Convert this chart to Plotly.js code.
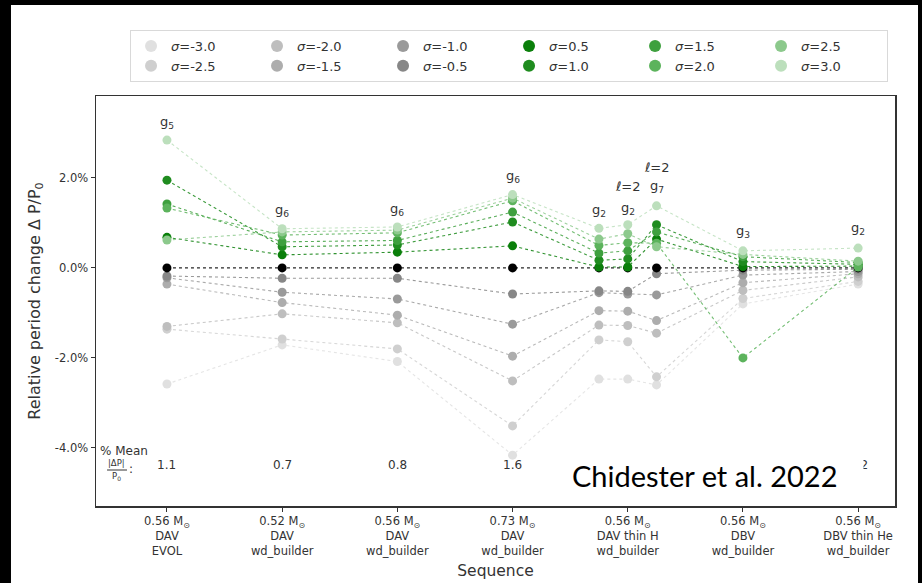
<!DOCTYPE html>
<html>
<head>
<meta charset="utf-8">
<script src="https://cdn.plot.ly/plotly-3.0.1.min.js"></script>
<style>
  html, body { margin: 0; padding: 0; background: #000; }
  #chart { width: 922px; height: 583px; }
</style>
</head>
<body>
<div id="chart"></div>
<script>
// Sequence positions (the thin-H model carries three modes side by side)
const xPos = [0, 1, 2, 3, 3.75, 4, 4.25, 5, 6];
const seqTicks = [0, 1, 2, 3, 4, 5, 6];
const seqLabels = [
  '0.56 M<sub>⊙</sub><br>DAV<br>EVOL',
  '0.52 M<sub>⊙</sub><br>DAV<br>wd_builder',
  '0.56 M<sub>⊙</sub><br>DAV<br>wd_builder',
  '0.73 M<sub>⊙</sub><br>DAV<br>wd_builder',
  '0.56 M<sub>⊙</sub><br>DAV thin H<br>wd_builder',
  '0.56 M<sub>⊙</sub><br>DBV<br>wd_builder',
  '0.56 M<sub>⊙</sub><br>DBV thin He<br>wd_builder'
];
const yTickVals = [-4, -2, 0, 2];
const yTickText = ['-4.0%', '-2.0%', '0.0%', '2.0%'];

// Relative period change (%) for each sigma perturbation
const sigmas = ['-3.0', '-2.5', '-2.0', '-1.5', '-1.0', '-0.5', '0.5', '1.0', '1.5', '2.0', '2.5', '3.0'];
const dP_m30 = [-2.58, -1.71, -2.08, -4.16, -2.47, -2.47, -2.60, -0.80, -0.36];
const dP_m25 = [-1.36, -1.58, -1.80, -3.51, -1.60, -1.64, -2.42, -0.68, -0.30];
const dP_m20 = [-1.30, -1.02, -1.22, -2.51, -1.27, -1.28, -1.45, -0.50, -0.20];
const dP_m15 = [-0.36, -0.77, -1.05, -1.96, -0.95, -0.96, -1.17, -0.33, -0.13];
const dP_m10 = [-0.22, -0.54, -0.69, -1.25, -0.55, -0.58, -0.60, -0.16, -0.08];
const dP_m05 = [-0.18, -0.23, -0.23, -0.58, -0.51, -0.52, -0.13, -0.05, -0.03];
const dP_00  = [0, 0, 0, 0, 0, 0, 0, 0, 0];
const dP_p05 = [0.68, 0.29, 0.35, 0.49, 0.02, 0.02, 0.64, 0.03, 0.04];
const dP_p10 = [1.95, 0.47, 0.51, 1.02, 0.17, 0.20, 0.96, 0.14, 0.08];
const dP_p15 = [1.42, 0.58, 0.61, 1.24, 0.33, 0.38, 0.80, 0.25, 0.12];
const dP_p20 = [1.33, 0.73, 0.78, 1.49, 0.50, 0.56, 0.55, -2.00, 0.02];
const dP_p25 = [0.62, 0.80, 0.84, 1.55, 0.64, 0.76, 0.47, 0.30, 0.15];
const dP_p30 = [2.84, 0.87, 0.91, 1.63, 0.88, 0.96, 1.38, 0.38, 0.44];
const seriesVals = [dP_m30, dP_m25, dP_m20, dP_m15, dP_m10, dP_m05, dP_p05, dP_p10, dP_p15, dP_p20, dP_p25, dP_p30];

const seriesColors = ['#e0e0e0', '#cfcfcf', '#bebebe', '#adadad', '#9a9a9a', '#878787',
                      '#0a7f0a', '#1f8c1f', '#3ea03e', '#5cb35c', '#8cc98c', '#bcdfbc'];

// Column-major legend: first row holds every other sigma
const legendOrder = ['-3.0', '-2.0', '-1.0', '0.5', '1.5', '2.5', '-2.5', '-1.5', '-0.5', '1.0', '2.0', '3.0'];

// Mean |dP|/P0 per sequence (%)
const meanVals = ['1.1', '0.7', '0.8', '1.6', null, null, '0.2'];

// Mode labels above each sequence
const modeLabels = ['g<sub>5</sub>', 'g<sub>6</sub>', 'g<sub>6</sub>', 'g<sub>6</sub>', 'g<sub>2</sub>', 'ℓ=2', 'g<sub>2</sub>', 'ℓ=2', 'g<sub>7</sub>', 'g<sub>3</sub>', 'g<sub>2</sub>'];
const modeX = [0, 1, 2, 3, 3.75, 4, 4, 4.25, 4.25, 5, 6];
const modeY = [3.24, 1.27, 1.29, 2.04, 1.27, 1.82, 1.33, 2.24, 1.80, 0.82, 0.87];

const FONT = 'DejaVu Sans, sans-serif';
const traces = [];

// dotted connectors, greys first, then the zero baseline, then greens
function lineTrace(y, color) {
  return { x: xPos, y: y, mode: 'lines', type: 'scatter', showlegend: false, hoverinfo: 'skip',
           line: { color: color, width: 1.1, dash: 'dot' }, opacity: 0.85 };
}
function markerTrace(y, color, sig, show) {
  return { x: xPos, y: y, mode: 'markers', type: 'scatter', name: '<i>σ</i>=' + sig, showlegend: show,
           legendrank: show ? legendOrder.indexOf(sig) + 1 : 1000,
           marker: { color: color, size: 9, line: { width: 0 } } };
}
for (let i = 0; i < 6; i++) traces.push(lineTrace(seriesVals[i], seriesColors[i]));
traces.push(lineTrace(dP_00, '#000000'));
for (let i = 6; i < 12; i++) traces.push(lineTrace(seriesVals[i], seriesColors[i]));
for (let i = 0; i < 6; i++) traces.push(markerTrace(seriesVals[i], seriesColors[i], sigmas[i], true));
traces.push(markerTrace(dP_00, '#000000', '0.0', false));
for (let i = 6; i < 12; i++) traces.push(markerTrace(seriesVals[i], seriesColors[i], sigmas[i], true));

const annotations = [];
modeLabels.forEach((txt, i) => annotations.push({
  x: modeX[i], y: modeY[i], xref: 'x', yref: 'y', text: txt, showarrow: false,
  font: { family: FONT, size: 13, color: '#333' }
}));
meanVals.forEach((v, i) => { if (v !== null) annotations.push({
  x: seqTicks[i], y: -4.38, xref: 'x', yref: 'y', text: v, showarrow: false,
  font: { family: FONT, size: 12, color: '#333' }
}); });
annotations.push({ x: -0.6, y: -4.07, xref: 'x', yref: 'y', xanchor: 'left', text: '% Mean', showarrow: false,
  font: { family: FONT, size: 12, color: '#333' } });
annotations.push({ x: -0.434, y: -4.34, xref: 'x', yref: 'y', text: '|ΔP|', showarrow: false,
  font: { family: FONT, size: 8.5, color: '#333' } });
annotations.push({ x: -0.434, y: -4.63, xref: 'x', yref: 'y', text: 'P<sub>0</sub>', showarrow: false,
  font: { family: FONT, size: 8.5, color: '#333' } });
annotations.push({ x: -0.315, y: -4.47, xref: 'x', yref: 'y', text: ':', showarrow: false,
  font: { family: FONT, size: 12, color: '#333' } });
annotations.push({ x: 0.593, y: 0.076, xref: 'paper', yref: 'paper', xanchor: 'left', yanchor: 'middle',
  text: 'Chidester et al. 2022', showarrow: false, width: 290, align: 'left', height: 44,
  bgcolor: '#ffffff', font: { family: 'Lato, sans-serif', size: 29, color: '#000' } });

const layout = {
  width: 922, height: 583,
  paper_bgcolor: '#000000', plot_bgcolor: '#ffffff',
  margin: { l: 96, r: 27, t: 96, b: 77 },
  font: { family: FONT, color: '#333' },
  showlegend: true,
  legend: {
    orientation: 'h', x: 0.0426, y: 1.161, xanchor: 'left', yanchor: 'top',
    bgcolor: '#ffffff', bordercolor: '#d9d9d9', borderwidth: 1,
    font: { family: FONT, size: 13, color: '#333' },
    entrywidth: 81, entrywidthmode: 'pixels', traceorder: 'normal', itemsizing: 'constant',
    tracegroupgap: 0
  },
  xaxis: {
    range: [-0.616, 6.32], tickmode: 'array', tickvals: seqTicks, ticktext: seqLabels,
    showgrid: false, zeroline: false, showline: true, mirror: true, linecolor: '#333', linewidth: 1.5,
    ticks: 'outside', ticklen: 4, tickcolor: '#333',
    tickfont: { family: FONT, size: 11.5, color: '#333' },
    title: { text: 'Sequence', font: { family: FONT, size: 15.5, color: '#333' }, standoff: 8 }
  },
  yaxis: {
    range: [-5.29, 3.82], tickmode: 'array', tickvals: yTickVals, ticktext: yTickText,
    showgrid: false, zeroline: false, showline: true, mirror: true, linecolor: '#333', linewidth: 1.5,
    ticks: 'outside', ticklen: 4, tickcolor: '#333',
    tickfont: { family: FONT, size: 11.5, color: '#333' },
    title: { text: 'Relative period change Δ P/P<sub>0</sub>', font: { family: FONT, size: 16, color: '#333' }, standoff: 10 }
  },
  shapes: [
    { type: 'rect', xref: 'paper', yref: 'paper', x0: -0.1064, x1: 1.0288, y0: -0.19, y1: 1.222,
      fillcolor: '#ffffff', line: { width: 0 }, layer: 'below' },
    { type: 'line', xref: 'x', yref: 'y', x0: -0.52, x1: -0.347, y0: -4.49, y1: -4.49,
      line: { color: '#333', width: 1 } }
  ],
  annotations: annotations
};

Plotly.newPlot('chart', traces, layout, { displayModeBar: false, staticPlot: true });
</script>
</body>
</html>
